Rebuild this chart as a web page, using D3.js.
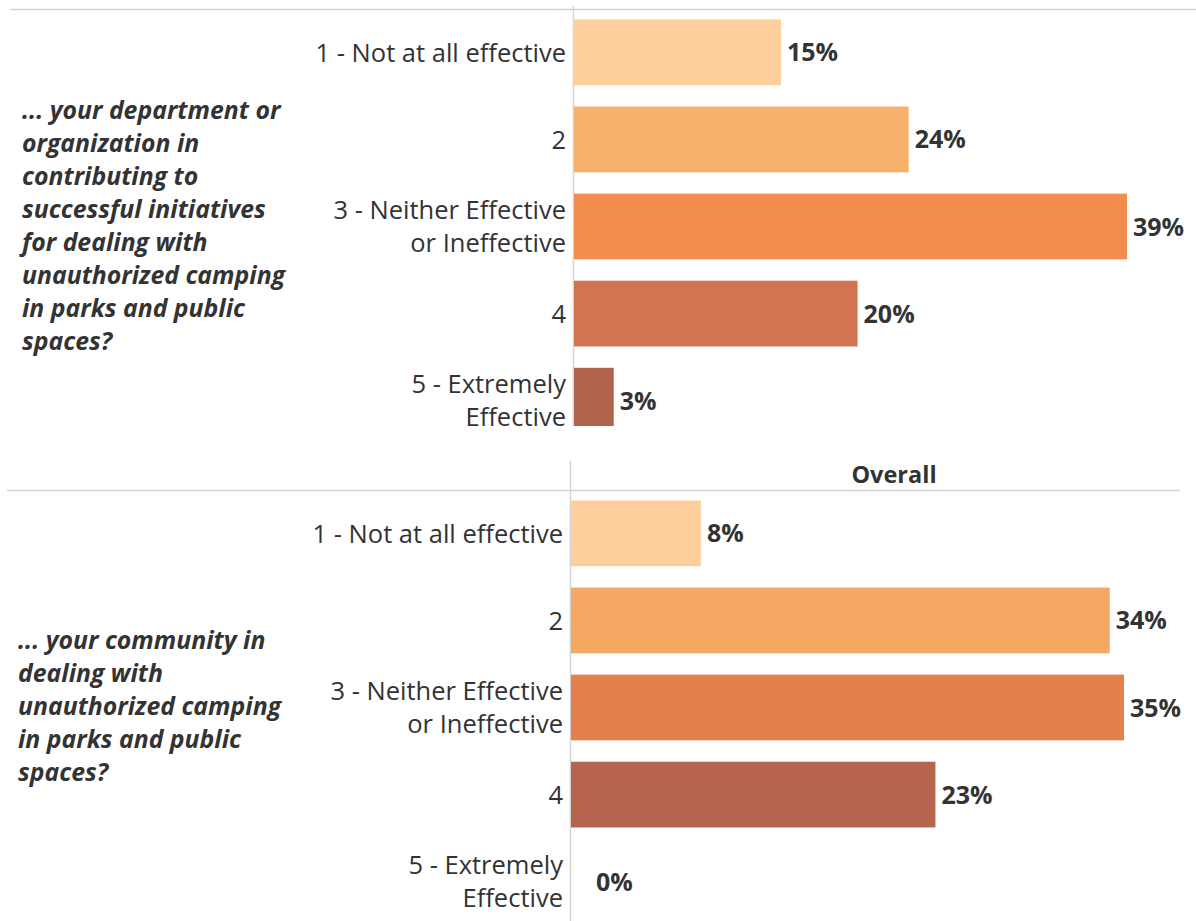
<!DOCTYPE html>
<html>
<head>
<meta charset="utf-8">
<script src="https://cdn.jsdelivr.net/npm/d3@7"></script>
<style>
  html, body { margin: 0; padding: 0; background: #fff; overflow: hidden; }
  svg { display: block; }
</style>
</head>
<body>
<svg id="chart" width="1196" height="921"></svg>
<script>
// ---------- data ----------
const categories = [
  "1 - Not at all effective",
  "2",
  "3 - Neither Effective or Ineffective",
  "4",
  "5 - Extremely Effective"
];
const categoryLines = [
  ["1 - Not at all effective"],
  ["2"],
  ["3 - Neither Effective", "or Ineffective"],
  ["4"],
  ["5 - Extremely", "Effective"]
];
const departmentValues = [14.6, 23.6, 39.0, 20.0, 2.8];
const communityValues = [8.2, 34.0, 34.9, 23.0, 0];
const departmentQuestion = ["... your department or", "organization in", "contributing to",
  "successful initiatives", "for dealing with", "unauthorized camping",
  "in parks and public", "spaces?"];
const communityQuestion = ["... your community in", "dealing with",
  "unauthorized camping", "in parks and public", "spaces?"];
const departmentColors = ["#FDD09D", "#F6B26A", "#F28D4E", "#D07550", "#B0644D"];
const communityColors = ["#FECF9D", "#F5A862", "#E2804E", "#B5654E", "#A85E4A"];
const headerText = "Overall";

// ---------- drawing ----------
const svg = d3.select("#chart");
const FONT = "'Open Sans', 'Noto Sans', sans-serif";
const TEXT = "#333333";

function drawPanel(cfg) {
  const g = svg.append("g");
  const clipId = "clip" + cfg.id;
  svg.append("defs").append("clipPath").attr("id", clipId)
    .append("rect").attr("x", 0).attr("y", cfg.clipTop).attr("width", 1196)
    .attr("height", cfg.clipBottom - cfg.clipTop);
  g.attr("clip-path", `url(#${clipId})`);

  const y = d3.scaleBand().domain(categories)
    .range([cfg.top, cfg.top + 435])
    .paddingInner(0.245).paddingOuter(0.12);
  const x = d3.scaleLinear().domain([0, d3.max(cfg.values)])
    .range([cfg.axisX, cfg.axisX + cfg.maxLen]);

  // header line
  g.append("line").attr("x1", cfg.lineX1).attr("x2", cfg.lineX2)
    .attr("y1", cfg.top + 0.5).attr("y2", cfg.top + 0.5)
    .attr("stroke", "#d4d4d4").attr("stroke-width", 1.5);
  // vertical axis line
  g.append("line").attr("x1", cfg.axisX - 0.5).attr("x2", cfg.axisX - 0.5)
    .attr("y1", cfg.vTop).attr("y2", cfg.clipBottom)
    .attr("stroke", "#d4d4d4").attr("stroke-width", 1.5);

  if (cfg.header) {
    g.append("text").attr("x", cfg.headerX).attr("y", cfg.top - 7)
      .attr("text-anchor", "middle").attr("font-family", FONT)
      .attr("font-weight", 700).attr("font-size", 23.5).attr("fill", TEXT)
      .text(cfg.header);
  }

  const data = categories.map((c, i) => ({ c, i, v: cfg.values[i] }));

  g.selectAll("rect.bar").data(data).join("rect")
    .attr("class", "bar")
    .attr("x", x(0))
    .attr("y", d => y(d.c))
    .attr("width", d => x(d.v) - x(0))
    .attr("height", y.bandwidth())
    .attr("fill", d => cfg.colors[d.i]);

  g.selectAll("text.val").data(data).join("text")
    .attr("class", "val")
    .attr("x", d => Math.max(x(d.v), x(0) + 19) + 6)
    .attr("y", d => y(d.c) + y.bandwidth() / 2)
    .attr("dy", "0.36em")
    .attr("font-family", FONT).attr("font-weight", 700).attr("font-size", 25)
    .attr("fill", TEXT)
    .text(d => Math.round(d.v) + "%");

  // category labels
  const lh = 33;
  const cat = g.selectAll("text.cat").data(data).join("text")
    .attr("class", "cat")
    .attr("text-anchor", "end")
    .attr("font-family", FONT).attr("font-size", 25.5).attr("fill", TEXT);
  cat.each(function(d) {
    const lines = categoryLines[d.i];
    const cy = y(d.c) + y.bandwidth() / 2;
    const startY = cy - (lines.length - 1) * lh / 2;
    d3.select(this).selectAll("tspan").data(lines).join("tspan")
      .attr("x", cfg.axisX - 8)
      .attr("y", (l, k) => startY + k * lh)
      .attr("dy", "0.36em")
      .text(l => l);
  });

  // question
  const q = cfg.question;
  g.append("text")
    .attr("font-family", FONT).attr("font-style", "italic").attr("font-weight", 700)
    .attr("font-size", 24.8).attr("fill", TEXT)
    .selectAll("tspan").data(q).join("tspan")
    .attr("x", cfg.qX)
    .attr("y", (l, k) => cfg.qY + k * 33)
    .attr("dy", "0.36em")
    .text(l => l);
}

drawPanel({
  id: 1, top: 9, clipTop: 0, clipBottom: 426, vTop: 6,
  axisX: 574, maxLen: 553, lineX1: 10, lineX2: 1196,
  values: departmentValues, colors: departmentColors,
  question: departmentQuestion, qX: 22, qY: 110, header: null
});
drawPanel({
  id: 2, top: 490, clipTop: 450, clipBottom: 921, vTop: 461,
  axisX: 571, maxLen: 553, lineX1: 7, lineX2: 1180,
  values: communityValues, colors: communityColors,
  question: communityQuestion, qX: 18, qY: 640, header: headerText, headerX: 894
});
</script>
</body>
</html>
